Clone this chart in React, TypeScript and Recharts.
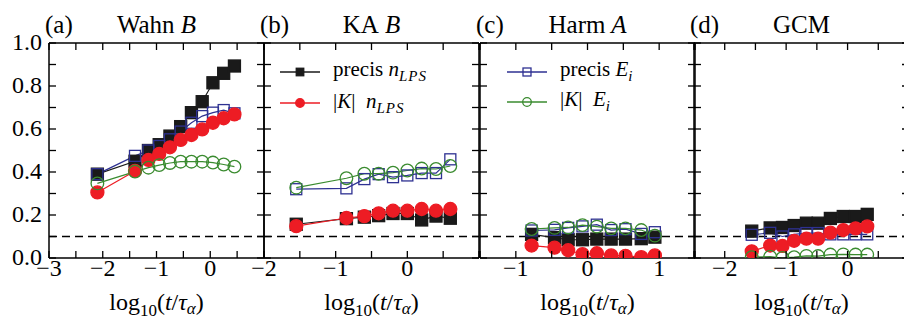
import React from 'react';
import { LineChart, Line, XAxis, YAxis, ReferenceLine, Legend } from 'recharts';

const FONT = '"Liberation Serif", "DejaVu Serif", serif';
const FS = 24;
const TITLE_FS = 25;
const LEG_FS = 21;

const BLACK = '#1a1a1a';
const RED = '#ed1c24';
const BLUE = '#2e3192';
const GREEN = '#3a8b2f';

// (a) Wahn B
const aX = [-2.1, -1.4, -1.15, -0.95, -0.75, -0.55, -0.35, -0.15, 0.05, 0.25, 0.45];
const aPrecisN = [0.39, 0.45, 0.5, 0.527, 0.567, 0.611, 0.676, 0.727, 0.815, 0.859, 0.893];
const aKN = [0.305, 0.405, 0.456, 0.484, 0.515, 0.549, 0.572, 0.598, 0.629, 0.65, 0.668];
const aPrecisE = [0.39, 0.475, 0.5, 0.521, 0.552, 0.588, 0.629, 0.66, 0.676, 0.688, 0.673];
const aKE = [0.347, 0.402, 0.42, 0.432, 0.442, 0.448, 0.448, 0.448, 0.444, 0.435, 0.425];

// (b) KA B
const bX = [-1.55, -0.85, -0.6, -0.4, -0.2, 0.0, 0.2, 0.4, 0.6];
const bPrecisN = [0.157, 0.183, 0.19, 0.197, 0.207, 0.207, 0.177, 0.195, 0.185];
const bKN = [0.148, 0.186, 0.195, 0.208, 0.22, 0.22, 0.228, 0.22, 0.228];
const bPrecisE = [0.32, 0.324, 0.367, 0.39, 0.376, 0.384, 0.395, 0.395, 0.459];
const bKE = [0.327, 0.371, 0.392, 0.392, 0.397, 0.407, 0.416, 0.414, 0.428];

// (c) Harm A
const cX = [-0.78, -0.46, -0.27, -0.07, 0.13, 0.33, 0.53, 0.75, 0.94];
const cPrecisN = [0.11, 0.095, 0.085, 0.085, 0.088, 0.088, 0.088, 0.09, 0.097];
const cKN = [0.058, 0.048, 0.036, 0.018, 0.022, 0.012, 0.01, 0.004, 0.012];
const cPrecisE = [0.128, 0.131, 0.14, 0.147, 0.155, 0.13, 0.134, 0.112, 0.12];
const cKE = [0.135, 0.14, 0.142, 0.153, 0.146, 0.138, 0.138, 0.13, 0.104];

// (d) GCM
const dX = [-1.56, -1.26, -1.06, -0.87, -0.67, -0.48, -0.28, -0.07, 0.13, 0.32];
const dPrecisN = [0.125, 0.14, 0.142, 0.151, 0.162, 0.162, 0.184, 0.193, 0.193, 0.203];
const dKN = [0.031, 0.058, 0.056, 0.08, 0.09, 0.09, 0.118, 0.13, 0.138, 0.147];
const dPrecisE = [0.108, 0.117, 0.1, 0.11, 0.116, 0.116, 0.11, 0.11, 0.11, 0.11];
const dKE = [0.004, 0.006, 0.0, 0.004, 0.01, 0.009, 0.016, 0.017, 0.016, 0.016];

const yTicks = [0, 0.1, 0.2, 0.3, 0.4, 0.5, 0.6, 0.7, 0.8, 0.9, 1.0];
const yLabels = [0, 0.2, 0.4, 0.6, 0.8, 1.0];
const threshold = 0.1;

const rows = (x: number[], pn: number[], kn: number[], pe: number[], ke: number[]) =>
  x.map((v, i) => ({ x: v, pn: pn[i], kn: kn[i], pe: pe[i], ke: ke[i] }));

const fmtX = (v: number) => (v < 0 ? '\u2212' + Math.abs(v) : String(v));

const TICK = 7;

const XTickBottom = (props: any) => {
  const { x, y, payload, labels } = props;
  const show = labels.includes(payload.value);
  return (
    <g>
      <line x1={x} y1={y} x2={x} y2={y - TICK} stroke="#000" strokeWidth={1.3} />
      {show && (
        <text x={x} y={y + 18} textAnchor="middle" fontFamily={FONT} fontSize={FS} fill="#000">
          {fmtX(payload.value)}
        </text>
      )}
    </g>
  );
};

const XTickTop = (props: any) => {
  const { x, y } = props;
  return <line x1={x} y1={y} x2={x} y2={y + TICK} stroke="#000" strokeWidth={1.3} />;
};

const YTickLeft = (props: any) => {
  const { x, y, payload, showLabels } = props;
  const show = showLabels && yLabels.some((l) => Math.abs(l - payload.value) < 1e-6);
  return (
    <g>
      <line x1={x} y1={y} x2={x + TICK} y2={y} stroke="#000" strokeWidth={1.3} />
      {show && (
        <text x={x - 7} y={y + 7} textAnchor="end" fontFamily={FONT} fontSize={FS} fill="#000">
          {payload.value.toFixed(1)}
        </text>
      )}
    </g>
  );
};

const YTickRight = (props: any) => {
  const { x, y } = props;
  return <line x1={x} y1={y} x2={x - TICK} y2={y} stroke="#000" strokeWidth={1.3} />;
};

const Square = ({ cx, cy, size, color, filled }: any) => (
  <rect
    x={cx - size / 2}
    y={cy - size / 2}
    width={size}
    height={size}
    fill={filled ? color : 'none'}
    stroke={color}
    strokeWidth={1.3}
  />
);

const Circle = ({ cx, cy, r, color, filled }: any) => (
  <circle cx={cx} cy={cy} r={r} fill={filled ? color : 'none'} stroke={color} strokeWidth={1.3} />
);

const dotFor = (kind: string) => (p: any) => {
  const key = `d-${kind}-${p.index}`;
  if (p.cx == null || p.cy == null) return <g key={key} />;
  if (kind === 'pn') return <Square key={key} cx={p.cx} cy={p.cy} size={12} color={BLACK} filled />;
  if (kind === 'kn') return <Circle key={key} cx={p.cx} cy={p.cy} r={6.5} color={RED} filled />;
  if (kind === 'pe') return <Square key={key} cx={p.cx} cy={p.cy} size={11} color={BLUE} />;
  return <Circle key={key} cx={p.cx} cy={p.cy} r={6.3} color={GREEN} />;
};

const subStyle = { fontSize: 15, fontStyle: 'italic' as const, letterSpacing: 1 };
const nLPS = (
  <>
    <i>n</i>
    <sub style={subStyle}>LPS</sub>
  </>
);
const Ei = (
  <>
    <i>E</i>
    <sub style={subStyle}>i</sub>
  </>
);

const legendB = [
  { key: 'pn', color: BLACK, label: <>precis {nLPS}</> },
  { key: 'kn', color: RED, label: <>|<i>K</i>|&nbsp;&nbsp;{nLPS}</> },
];
const legendC = [
  { key: 'pe', color: BLUE, label: <>precis {Ei}</> },
  { key: 'ke', color: GREEN, label: <>|<i>K</i>|&nbsp;&nbsp;{Ei}</> },
];

const LegendMarker = ({ kind, color }: any) => {
  if (kind === 'pn') return <Square cx={20} cy={8} size={7.5} color={color} filled />;
  if (kind === 'kn') return <Circle cx={20} cy={8} r={4.3} color={color} filled />;
  if (kind === 'pe') return <Square cx={20} cy={8} size={8} color={color} />;
  return <Circle cx={20} cy={8} r={4.3} color={color} />;
};

const LegendBox = ({ items, rowH }: any) => (
  <div style={{ fontFamily: FONT, fontSize: LEG_FS, color: '#000' }}>
    {items.map((it: any) => (
      <div key={it.key} style={{ display: 'flex', alignItems: 'center', height: rowH, whiteSpace: 'nowrap' }}>
        <svg width={40} height={16} style={{ marginRight: 13, flex: 'none' }}>
          <line x1={0} y1={8} x2={40} y2={8} stroke={it.color} strokeWidth={1.3} />
          <LegendMarker kind={it.key} color={it.color} />
        </svg>
        <span style={{ lineHeight: 1 }}>{it.label}</span>
      </div>
    ))}
  </div>
);

const Title = ({ viewBox, letter, name, italic }: any) => {
  const { x, y, width } = viewBox;
  return (
    <g fontFamily={FONT} fontSize={TITLE_FS} fill="#000">
      <text x={x - 4} y={y - 9}>
        ({letter})
      </text>
      <text x={x + width / 2} y={y - 9} textAnchor="middle">
        {name}
        {italic && <tspan fontStyle="italic"> {italic}</tspan>}
      </text>
    </g>
  );
};

const XLabel = ({ viewBox }: any) => {
  const { x, y, width } = viewBox;
  return (
    <text x={x + width / 2} y={y + 52} textAnchor="middle" fontFamily={FONT} fontSize={FS} fill="#000">
      log
      <tspan dy={6} fontSize={17}>10</tspan>
      <tspan dy={-6}>(</tspan>
      <tspan fontStyle="italic">t</tspan>/<tspan fontStyle="italic">τ</tspan>
      <tspan dy={4} fontSize={17} fontStyle="italic">α</tspan>
      <tspan dy={-4}>)</tspan>
    </text>
  );
};

type PanelProps = {
  data: any[];
  left: number;
  domain: [number, number];
  ticks: number[];
  labels: number[];
  letter: string;
  name: string;
  italic?: string;
  showY?: boolean;
  legend?: any[];
  legendPos?: { left: number; top: number; rowH: number };
};

const PLOT_LEFT = 49;
const PLOT_W = 215;

const Panel = ({ data, left, domain, ticks, labels, letter, name, italic, showY, legend, legendPos }: PanelProps) => {
  const W = PLOT_LEFT + PLOT_W + 1 + 20;
  return (
    <div style={{ position: 'absolute', left: left - PLOT_LEFT, top: 0 }}>
      <LineChart width={W} height={320} data={data} margin={{ top: 42, right: 20, bottom: 61, left: 48 }}>
        <XAxis
          dataKey="x"
          type="number"
          domain={domain}
          ticks={ticks}
          interval={0}
          allowDataOverflow
          height={1}
          tickSize={0}
          tickMargin={0}
          tickLine={false}
          axisLine={{ stroke: '#000', strokeWidth: 1.5 }}
          tick={(p: any) => <XTickBottom {...p} labels={labels} />}
          label={{ content: (p: any) => <XLabel {...p} /> }}
        />
        <XAxis
          xAxisId="top"
          orientation="top"
          dataKey="x"
          type="number"
          domain={domain}
          ticks={ticks}
          interval={0}
          allowDataOverflow
          height={1}
          tickSize={0}
          tickMargin={0}
          tickLine={false}
          axisLine={{ stroke: '#000', strokeWidth: 1.5 }}
          tick={(p: any) => <XTickTop {...p} />}
          label={{ content: (p: any) => <Title {...p} letter={letter} name={name} italic={italic} /> }}
        />
        <YAxis
          type="number"
          domain={[0, 1]}
          ticks={yTicks}
          interval={0}
          allowDataOverflow
          width={1}
          tickSize={0}
          tickMargin={0}
          tickLine={false}
          axisLine={{ stroke: '#000', strokeWidth: 1.5 }}
          tick={(p: any) => <YTickLeft {...p} showLabels={showY} />}
        />
        <YAxis
          yAxisId="right"
          orientation="right"
          type="number"
          domain={[0, 1]}
          ticks={yTicks}
          interval={0}
          allowDataOverflow
          width={1}
          tickSize={0}
          tickMargin={0}
          tickLine={false}
          axisLine={{ stroke: '#000', strokeWidth: 1.5 }}
          tick={(p: any) => <YTickRight {...p} />}
        />
        <ReferenceLine y={threshold} stroke="#000" strokeWidth={1.4} strokeDasharray="8 5" />
        <Line dataKey="pn" stroke={BLACK} strokeWidth={1.2} dot={dotFor('pn')} activeDot={false} isAnimationActive={false} />
        <Line dataKey="pe" stroke={BLUE} strokeWidth={1.2} dot={dotFor('pe')} activeDot={false} isAnimationActive={false} />
        <Line dataKey="kn" stroke={RED} strokeWidth={1.2} dot={dotFor('kn')} activeDot={false} isAnimationActive={false} />
        <Line dataKey="ke" stroke={GREEN} strokeWidth={1.2} dot={dotFor('ke')} activeDot={false} isAnimationActive={false} />
        {legend && legendPos && (
          <Legend
            layout="horizontal"
            verticalAlign="middle"
            align="center"
            wrapperStyle={{ left: legendPos.left, top: legendPos.top, width: 'auto' }}
            content={() => <LegendBox items={legend} rowH={legendPos.rowH} />}
          />
        )}
      </LineChart>
    </div>
  );
};

export default function App() {
  return (
    <div
      style={{
        position: 'absolute',
        left: 0,
        top: 0,
        width: 904,
        height: 320,
        overflow: 'hidden',
        background: '#fff',
      }}
    >
      <Panel
        data={rows(aX, aPrecisN, aKN, aPrecisE, aKE)}
        left={49}
        domain={[-3, 1]}
        ticks={[-3, -2.5, -2, -1.5, -1, -0.5, 0, 0.5, 1]}
        labels={[-3, -2, -1, 0]}
        letter="a"
        name="Wahn"
        italic="B"
        showY
      />
      <Panel
        data={rows(bX, bPrecisN, bKN, bPrecisE, bKE)}
        left={264}
        domain={[-2, 1]}
        ticks={[-2, -1.5, -1, -0.5, 0, 0.5, 1]}
        labels={[-2, -1, 0]}
        letter="b"
        name="KA"
        italic="B"
        legend={legendB}
        legendPos={{ left: 65, top: 56, rowH: 31.5 }}
      />
      <Panel
        data={rows(cX, cPrecisN, cKN, cPrecisE, cKE)}
        left={480}
        domain={[-1.5, 1.5]}
        ticks={[-1.5, -1, -0.5, 0, 0.5, 1, 1.5]}
        labels={[-1, 0, 1]}
        letter="c"
        name="Harm"
        italic="A"
        legend={legendC}
        legendPos={{ left: 76, top: 57, rowH: 30 }}
      />
      <Panel
        data={rows(dX, dPrecisN, dKN, dPrecisE, dKE)}
        left={694}
        domain={[-2.5, 1]}
        ticks={[-2.5, -2, -1.5, -1, -0.5, 0, 0.5, 1]}
        labels={[-2, -1, 0]}
        letter="d"
        name="GCM"
      />
    </div>
  );
}
